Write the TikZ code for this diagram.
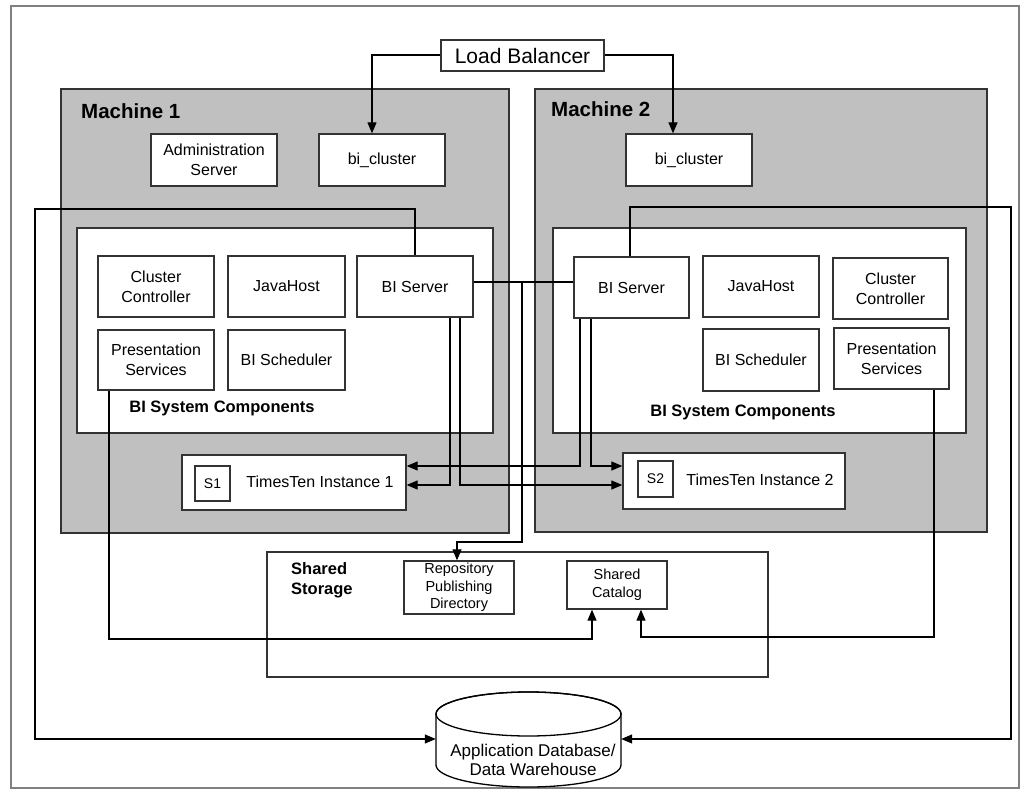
\documentclass[tikz,border=0pt]{standalone}
\usepackage{fontspec}
\setmainfont{Liberation Sans}
\usetikzlibrary{arrows.meta}
\definecolor{machgray}{HTML}{C0C0C0}
\definecolor{edgec}{HTML}{333333}
\definecolor{framec}{HTML}{808080}
\begin{document}
\begin{tikzpicture}[x=1pt,y=-1pt,
  box/.style={draw=edgec, line width=1.3pt, fill=white, inner sep=0pt, align=center, font=\fontsize{16}{20}\selectfont},
  machine/.style={draw=edgec, line width=1.5pt, fill=machgray, inner sep=0pt},
  container/.style={draw=edgec, line width=1.3pt, fill=white, inner sep=0pt},
  lbl/.style={inner sep=0pt, font=\bfseries\fontsize{16.5}{20}\selectfont, align=left},
  mlbl/.style={inner sep=0pt, anchor=west, font=\bfseries\fontsize{20.5}{24}\selectfont},
  conn/.style={draw=black, line width=1.2pt},
  arr/.style={conn, -{Triangle[length=11pt,width=9pt]}},
]
\useasboundingbox (0,0) rectangle (1026,792);
\fill[white] (0,0) rectangle (1026,792);
% outer frame
\node[draw=framec, line width=1.5pt, inner sep=0pt, minimum width=1008pt, minimum height=782pt] (frame) at (515,397) {};

% load balancer
\node[box, minimum width=163pt, minimum height=31pt, font=\fontsize{21}{25}\selectfont] (lb) at (522.5,55.5) {Load Balancer};

% machines
\node[machine, minimum width=448pt, minimum height=444pt] (m1) at (285,311) {};
\node[machine, minimum width=452pt, minimum height=443pt] (m2) at (761,310.5) {};
\node[mlbl] (m1lbl) at (81,111) {Machine 1};
\node[mlbl] (m2lbl) at (551,109) {Machine 2};

% top boxes
\node[box, minimum width=126pt, minimum height=52pt] (admin) at (214,160) {Administration\\Server};
\node[box, minimum width=126pt, minimum height=52pt] (bic1) at (382,160) {bi\_cluster};
\node[box, minimum width=126pt, minimum height=52pt] (bic2) at (689,160) {bi\_cluster};

% BI system components containers
\node[container, minimum width=416pt, minimum height=205pt] (bsc1) at (285,330.5) {};
\node[container, minimum width=413pt, minimum height=205pt] (bsc2) at (759.5,330.5) {};
\node[lbl] (bsc1lbl) at (222,408) {BI System Components};
\node[lbl] (bsc2lbl) at (743,412) {BI System Components};

% machine 1 components
\node[box, minimum width=116pt, minimum height=61pt] (cc1) at (156,286.5) {Cluster\\Controller};
\node[box, minimum width=117pt, minimum height=61pt] (jh1) at (286.5,286.5) {JavaHost};
\node[box, minimum width=116pt, minimum height=61pt] (bis1) at (415,286.5) {BI Server};
\node[box, minimum width=116pt, minimum height=60pt] (ps1) at (156,360) {Presentation\\Services};
\node[box, minimum width=117pt, minimum height=60pt] (sch1) at (286.5,360) {BI Scheduler};

% machine 2 components
\node[box, minimum width=115pt, minimum height=61pt] (bis2) at (631.5,287.5) {BI Server};
\node[box, minimum width=116pt, minimum height=61pt] (jh2) at (761,286.5) {JavaHost};
\node[box, minimum width=115pt, minimum height=61pt] (cc2) at (890.5,288.5) {Cluster\\Controller};
\node[box, minimum width=116pt, minimum height=62pt] (sch2) at (761,360) {BI Scheduler};
\node[box, minimum width=115pt, minimum height=61pt] (ps2) at (891.5,358.5) {Presentation\\Services};

% TimesTen
\node[box, minimum width=224pt, minimum height=55pt] (tt1) at (294,482.5) {};
\node[box, minimum width=35pt, minimum height=35pt, font=\fontsize{14}{16}\selectfont] (s1) at (212.5,483.5) {S1};
\node[inner sep=0pt, font=\fontsize{16}{20}\selectfont] (tt1lbl) at (320,482) {TimesTen Instance 1};
\node[box, minimum width=222pt, minimum height=56pt] (tt2) at (734,481) {};
\node[box, minimum width=35pt, minimum height=36pt, font=\fontsize{14}{16}\selectfont] (s2) at (655.5,479) {S2};
\node[inner sep=0pt, font=\fontsize{16}{20}\selectfont] (tt2lbl) at (760,480) {TimesTen Instance 2};

% shared storage
\node[container, minimum width=501pt, minimum height=125pt] (ss) at (517.5,614.5) {};
\node[lbl, anchor=north west] (sslbl) at (291,562) {Shared\\Storage};
\node[box, minimum width=110pt, minimum height=53pt, font=\fontsize{14.5}{17.5}\selectfont] (rpd) at (459,587.5) {Repository\\Publishing\\Directory};
\node[box, minimum width=100pt, minimum height=48pt, font=\fontsize{14.5}{18}\selectfont] (cat) at (617,585) {Shared\\Catalog};

% database cylinder
\filldraw[draw=black, fill=white, line width=1.3pt]
  (436,714) -- (436,765) arc[start angle=180, end angle=360, x radius=92.5pt, y radius=22pt]
  -- (621,714) arc[start angle=0, end angle=180, x radius=92.5pt, y radius=22pt] -- cycle;
\draw[black, line width=1.3pt] (528.5,714) ellipse [x radius=92.5pt, y radius=22pt];
\node[inner sep=0pt, minimum width=185pt, minimum height=51pt] (db) at (528.5,739) {};
\node[inner sep=0pt, align=center, font=\fontsize{17}{19}\selectfont] (dblbl) at (533,760) {Application Database/\\Data Warehouse};

% connectors: load balancer
\draw[arr] ([yshift=0.5pt]lb.west) -| ([xshift=-10pt]bic1.north);
\draw[arr] ([yshift=0.5pt]lb.east) -| ([xshift=-16pt]bic2.north);

% BI servers to database
\coordinate (lc) at (35,209);
\coordinate (rc) at (1011,207);
\draw[arr] (bis1.north) |- (lc) |- (db.west);
\draw[arr] ([xshift=-1.5pt]bis2.north) |- (rc) |- (db.east);

% BI server to BI server and repository
\coordinate (j1) at (522,282);
\coordinate (j2) at (457,542);
\draw[conn] (bis1.east |- j1) -- (bis2.west |- j1);
\draw[arr] (j1) |- (j2) -- (j2 |- rpd.north);

% BI servers to TimesTen
\draw[arr] ([xshift=35pt]bis1.south) |- ([yshift=-2.5pt]tt1.east);
\draw[arr] ([xshift=45pt]bis1.south) |- ([yshift=-4pt]tt2.west);
\draw[arr] ([xshift=-51.5pt]bis2.south) |- ([yshift=16.5pt]tt1.east);
\draw[arr] ([xshift=-40.5pt]bis2.south) |- ([yshift=15pt]tt2.west);

% presentation services to shared catalog
\coordinate (c1) at (109,639);
\coordinate (c2) at (934,637);
\draw[arr] (ps1.south -| c1) -- (c1) -| ([xshift=-25pt]cat.south);
\draw[arr] (ps2.south -| c2) -- (c2) -| ([xshift=24pt]cat.south);
\end{tikzpicture}
\end{document}
